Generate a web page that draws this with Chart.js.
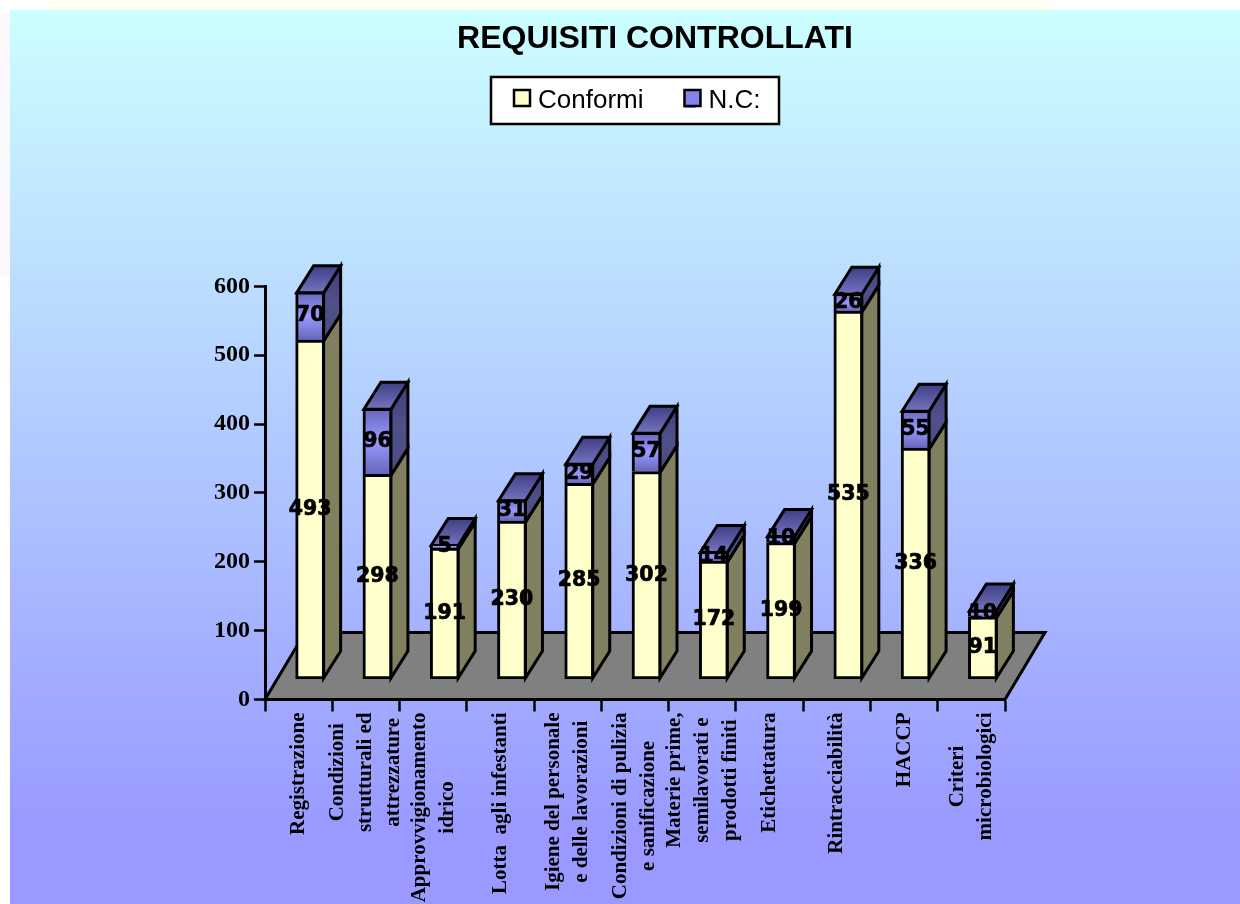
<!DOCTYPE html>
<html><head><meta charset="utf-8">
<style>html,body{margin:0;padding:0;background:#fff}canvas{display:block}</style>
<script src="https://cdn.jsdelivr.net/npm/chart.js@4"></script>
</head><body>
<canvas id="c" width="1240" height="904"></canvas>
<script>
const titleText = 'REQUISITI CONTROLLATI';
const categories = [
  ['Registrazione'],
  ['Condizioni','strutturali ed','attrezzature'],
  ['Approvvigionamento','idrico'],
  ['Lotta  agli infestanti'],
  ['Igiene del personale','e delle lavorazioni'],
  ['Condizioni di pulizia','e sanificazione'],
  ['Materie prime,','semilavorati e','prodotti finiti'],
  ['Etichettatura'],
  ['Rintracciabilità'],
  ['HACCP'],
  ['Criteri','microbiologici']
];
const conformi = [493,298,191,230,285,302,172,199,535,336,91];
const nonConformi = [70,96,5,31,29,57,14,10,26,55,10];
const yTicks = [0,100,200,300,400,500,600];
const legendColors = ['#ffffcc','#8484e8'];

const SHIFT = {x: 11.5, y: -20};
const DEPTH = {x: 17, y: -27};
const FLOOR = {x: 40, y: -67};
const LW = 3;

function poly(ctx, pts, fill, lw){
  ctx.beginPath();
  pts.forEach((p,i)=> i ? ctx.lineTo(p[0],p[1]) : ctx.moveTo(p[0],p[1]));
  ctx.closePath();
  ctx.fillStyle = fill; ctx.fill();
  ctx.lineWidth = lw; ctx.lineJoin='miter'; ctx.strokeStyle = '#000'; ctx.stroke();
}
function vGrad(ctx, y0, y1, stops){
  const g = ctx.createLinearGradient(0,y0,0,y1);
  stops.forEach(s=>g.addColorStop(s[0],s[1]));
  return g;
}

const decor = {
  id:'decor',
  afterLayout(chart){
    const t = chart.titleBlock, l = chart.legend;
    const tdx = 655-(t.left+t.right)/2, tdy = 20 - t.top;
    t.left += tdx; t.right += tdx; t.top += tdy; t.bottom += tdy;
    const pad = l.options.labels.padding;
    const start = (l.left+pad+l.right-l.lineWidths[0])/2;
    const ldx = 514-start, ldy = 47 - l.top;
    l.left += ldx; l.right += ldx; l.top += ldy; l.bottom += ldy;
  },
  beforeDraw(chart){
    const c = chart.ctx, w = chart.width, h = chart.height;
    c.save();
    c.fillStyle='#fff'; c.fillRect(0,0,w,h);
    c.fillStyle='#fffff3'; c.fillRect(50,0,1000,10);
    c.fillStyle='#fbf8fe'; c.fillRect(0,14,10,262);
    c.fillStyle=vGrad(c,10,h,[[0,'#ccffff'],[0.92,'#9999ff'],[1,'#9999ff']]);
    c.fillRect(10,10,w-10,h-10);
    c.fillStyle='#fff'; c.fillRect(491,77,288,47);
    c.lineWidth=2.5; c.strokeStyle='#000'; c.strokeRect(491,77,288,47);
    c.restore();
    // centre the lines of each rotated category label inside its block
    const items = chart.scales.x.getLabelItems();
    items.forEach(it=>{
      if(it._done) return; it._done = true;
      c.save(); c.font = it.font.string;
      const lines = Array.isArray(it.label)?it.label:[it.label];
      const m = Math.max(...lines.map(s=>c.measureText(s).width));
      c.restore();
      it.options.textAlign='center';
      const tr = it.options.translation;
      it.options.translation=[tr[0]-(lines.length-1)/2*it.font.lineHeight, tr[1]+m/2];
    });
  },
  afterDraw(chart){
    const c = chart.ctx;
    c.save();
    chart.legend.legendHitBoxes.forEach((h,i)=>{
      c.fillStyle=legendColors[i]; c.strokeStyle='#000'; c.lineWidth=2.5;
      c.fillRect(h.left,90,16,16); c.strokeRect(h.left,90,16,16);
    });
    c.restore();
  },
  beforeDatasetsDraw(chart){
    const c = chart.ctx, y = chart.scales.y;
    const y0 = y.getPixelForValue(0), xl = chart.chartArea.left, xr = chart.chartArea.right;
    c.save();
    poly(c,[[xl,y0],[xr,y0],[xr+FLOOR.x,y0+FLOOR.y],[xl+FLOOR.x,y0+FLOOR.y]],'#808080',LW);
    c.translate(SHIFT.x,SHIFT.y);
    const a = chart.getDatasetMeta(0).data, b = chart.getDatasetMeta(1).data;
    a.forEach((bar,i)=>{
      const top = b[i];
      const r = bar.x+bar.width/2-1, l = bar.x-bar.width/2+1;
      const yb = bar.base-1, ym = bar.y+1, yt = top.y+1;
      const sq = (p,q)=>[[r,p],[r+DEPTH.x,p+DEPTH.y],[r+DEPTH.x,q+DEPTH.y],[r,q]];
      poly(c,sq(yb,ym).reverse(),'#808060',LW);
      poly(c,sq(ym,yt),vGrad(c,yt+DEPTH.y,ym,[[0,'#3f3f80'],[0.5,'#50508a'],[1,'#4c4c80']]),LW);
      poly(c,[[l,yt],[l+DEPTH.x,yt+DEPTH.y],[r+DEPTH.x,yt+DEPTH.y],[r,yt]],vGrad(c,yt+DEPTH.y,yt,[[0,'#3f3f85'],[1,'#7474c0']]),LW);
    });
  },
  afterDatasetsDraw(chart){
    const c = chart.ctx;
    c.textAlign='center'; c.textBaseline='middle';
    c.font='bold 20.5px "DejaVu Sans"'; c.fillStyle='#000'; c.strokeStyle='#000'; c.lineWidth=0.7; c.lineJoin='round';
    chart.data.datasets.forEach((ds,d)=>{
      chart.getDatasetMeta(d).data.forEach((bar,i)=>{
        const ty=(bar.y+bar.base)/2;
        c.fillText(String(ds.data[i]), bar.x, ty);
        c.strokeText(String(ds.data[i]), bar.x, ty);
      });
    });
    c.restore();
  }
};

function ncFill(ctx){
  const ch = ctx.chart, y = ch.scales.y, i = ctx.dataIndex;
  if(i===undefined || !y) return '#9999ff';
  const t = y.getPixelForValue(conformi[i]+nonConformi[i]), b = y.getPixelForValue(conformi[i]);
  return vGrad(ch.ctx,t,b,[[0,'#6666bb'],[0.5,'#9999ff'],[1,'#6666bb']]);
}

new Chart(document.getElementById('c'),{
  type:'bar',
  plugins:[decor],
  data:{labels:categories,datasets:[
    {label:'Conformi',data:conformi,backgroundColor:'#ffffcc',borderColor:'#000',borderWidth:LW,borderSkipped:false,barThickness:29},
    {label:'N.C:',data:nonConformi,backgroundColor:ncFill,borderColor:'#000',borderWidth:LW,borderSkipped:'bottom',barThickness:29}
  ]},
  options:{
    responsive:false,animation:false,
    layout:{padding:{left:0,right:235,top:171,bottom:0}},
    plugins:{
      tooltip:{enabled:false},
      title:{display:true,text:titleText,color:'#000',padding:0,font:{family:'"Liberation Sans"',size:32,weight:'bold',lineHeight:1.2}},
      legend:{display:true,position:'top',labels:{
        color:'#000',font:{family:'"Liberation Sans"',size:26},boxWidth:11,boxHeight:14,padding:41,
        generateLabels:()=>[
          {text:'Conformi',fillStyle:legendColors[0],strokeStyle:'#000',lineWidth:0,datasetIndex:0},
          {text:'N.C:',fillStyle:legendColors[1],strokeStyle:'#000',lineWidth:0,datasetIndex:1}
        ]
      }}
    },
    scales:{
      x:{stacked:true,offset:true,z:1,
        afterFit(s){s.height=204.5;},
        border:{display:true,color:'#000',width:3},
        grid:{display:true,offset:true,drawOnChartArea:false,drawTicks:true,tickLength:12,tickColor:'#000',tickWidth:2.5,color:'#000'},
        ticks:{autoSkip:false,minRotation:90,maxRotation:90,padding:1,color:'#000',font:{family:'"Liberation Serif"',size:21,weight:'bold',lineHeight:1.333}}
      },
      y:{stacked:true,min:0,max:600,z:1,
        afterFit(s){s.width=265;},
        afterBuildTicks(s){s.ticks=yTicks.map(v=>({value:v}));},
        border:{display:true,color:'#000',width:3},
        grid:{display:true,drawOnChartArea:false,drawTicks:true,tickLength:11,tickColor:'#000',tickWidth:2.5},
        ticks:{padding:4,color:'#000',font:{family:'"Liberation Serif"',size:24,weight:'bold'}}
      }
    }
  }
});
</script>
</body></html>
